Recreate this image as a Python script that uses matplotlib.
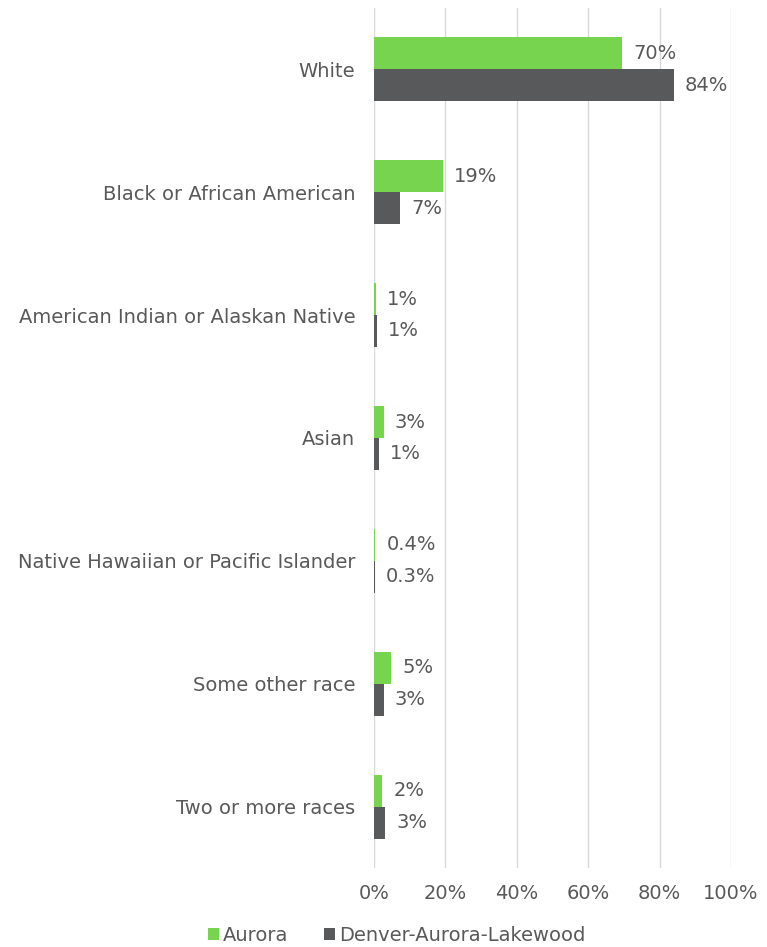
import matplotlib
matplotlib.use("Agg")
import matplotlib.pyplot as plt
import numpy as np

CATEGORIES = [
    "White",
    "Black or African American",
    "American Indian or Alaskan Native",
    "Asian",
    "Native Hawaiian or Pacific Islander",
    "Some other race",
    "Two or more races",
]
SERIES = ["Aurora", "Denver-Aurora-Lakewood"]
AURORA = [69.6, 19.4, 0.5, 2.7, 0.4, 4.8, 2.3]
DENVER = [84.0, 7.3, 0.8, 1.3, 0.3, 2.7, 3.2]
AURORA_LABELS = ["70%", "19%", "1%", "3%", "0.4%", "5%", "2%"]
DENVER_LABELS = ["84%", "7%", "1%", "1%", "0.3%", "3%", "3%"]
X_TICKS = [0, 20, 40, 60, 80, 100]

GREEN = "#77D44F"
GRAY = "#58595B"
TEXT = "#595959"
GRID = "#D9D9D9"
FS = 14

fig = plt.figure(figsize=(7.67, 9.47), dpi=100)
ax = fig.add_axes([0.4876, 0.083, 0.4655, 0.909])

y = np.arange(len(CATEGORIES))
h = 0.26
bars_a = ax.barh(y - h / 2, AURORA, height=h, color=GREEN, label=SERIES[0], zorder=3)
bars_d = ax.barh(y + h / 2, DENVER, height=h, color=GRAY, label=SERIES[1], zorder=3)

for bars, labels in [(bars_a, AURORA_LABELS), (bars_d, DENVER_LABELS)]:
    for bar, lab in zip(bars, labels):
        ax.annotate(lab, (bar.get_width(), bar.get_y() + bar.get_height() / 2),
                    xytext=(8, 0), textcoords="offset points",
                    va="center", ha="left", fontsize=FS, color=TEXT)

ax.set_ylim(len(CATEGORIES) - 0.5, -0.5)
ax.set_xlim(0, 100)
ax.set_yticks(y)
ax.set_yticklabels(CATEGORIES, fontsize=FS, color=TEXT)
ax.set_xticks(X_TICKS)
ax.set_xticklabels([f"{t}%" for t in X_TICKS], fontsize=FS, color=TEXT)
ax.tick_params(axis="both", length=0)
ax.tick_params(axis="y", pad=13.5)
ax.tick_params(axis="x", pad=11)

ax.grid(axis="x", color=GRID, linewidth=1, zorder=0)
for side in ["top", "right", "bottom", "left"]:
    ax.spines[side].set_visible(False)

fig.legend(handles=[bars_a, bars_d], labels=SERIES, loc="center",
           bbox_to_anchor=(0.517, 0.012), ncol=2, frameon=False,
           fontsize=FS, labelcolor=TEXT, handlelength=0.6, handleheight=0.6,
           handletextpad=0.2, columnspacing=1.8)

fig.savefig("out.png", dpi=100)
